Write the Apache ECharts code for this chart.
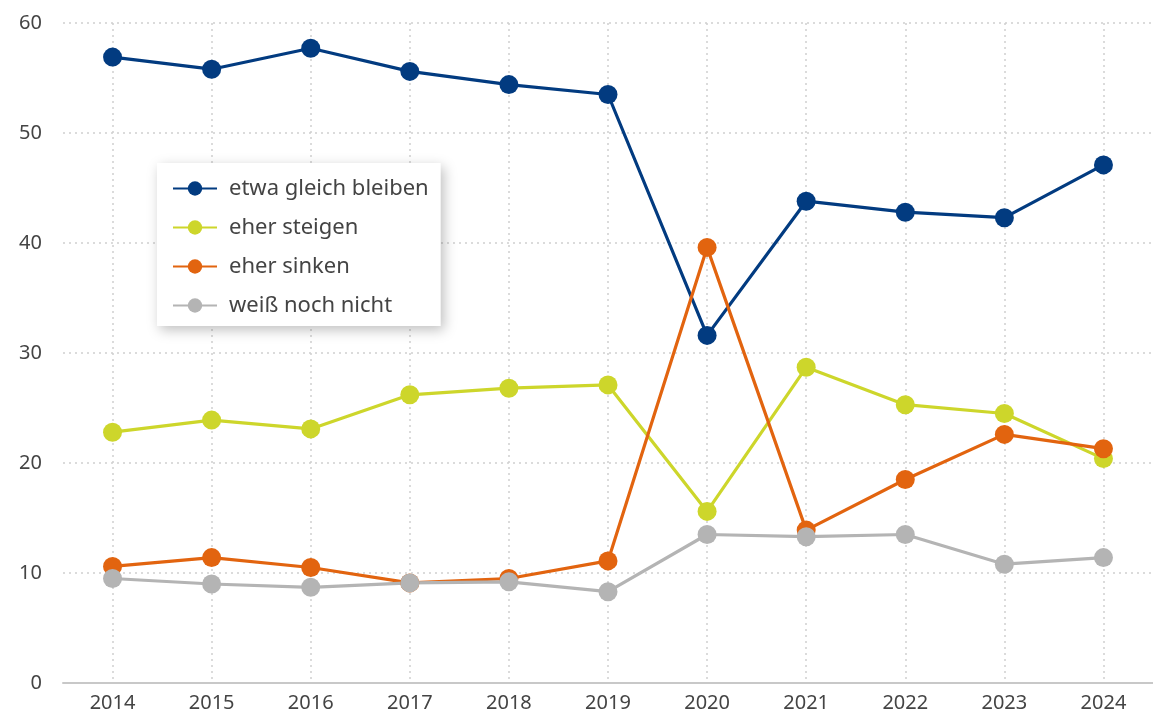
<!DOCTYPE html>
<html>
<head>
<meta charset="utf-8">
<script src="https://cdn.jsdelivr.net/npm/echarts@6/dist/echarts.min.js"></script>
<style>
  html, body { margin: 0; padding: 0; background: #fff; }
  #main { width: 1153px; height: 715px; }
</style>
</head>
<body>
<div id="main"></div>
<script>
// Jahre
var years = ['2014', '2015', '2016', '2017', '2018', '2019', '2020', '2021', '2022', '2023', '2024']
// Werte je Antwort
var gleich = [56.9, 55.8, 57.7, 55.6, 54.4, 53.5, 31.6, 43.8, 42.8, 42.3, 47.1]
var steigen = [22.8, 23.9, 23.1, 26.2, 26.8, 27.1, 15.6, 28.7, 25.3, 24.5, 20.4]
var sinken = [10.6, 11.4, 10.5, 9.1, 9.5, 11.1, 39.6, 13.9, 18.5, 22.6, 21.3]
var weissNicht = [9.5, 9.0, 8.7, 9.1, 9.2, 8.3, 13.5, 13.3, 13.5, 10.8, 11.4]
var names = ['etwa gleich bleiben', 'eher steigen', 'eher sinken', 'weiß noch nicht']

var myChart = echarts.init(document.getElementById('main'))

function makeSeries (name, data) {
  return {
    name: name,
    type: 'line',
    data: data,
    symbol: 'circle',
    symbolSize: 19,
    lineStyle: { width: 3.2 },
    emphasis: { disabled: true }
  }
}

var option = {
  animation: false,
  color: ['#023b80', '#cdd62b', '#e2640f', '#b4b4b4'],
  textStyle: { fontFamily: 'Noto Sans' },
  legend: {
    left: 157,
    top: 163,
    orient: 'vertical',
    data: names,
    itemWidth: 44,
    itemHeight: 18,
    itemGap: 16,
    padding: [14, 12, 9, 15],
    backgroundColor: '#fff',
    shadowBlur: 12,
    shadowColor: 'rgba(0, 0, 0, 0.25)',
    shadowOffsetX: 3,
    shadowOffsetY: 4,
    textStyle: {
      color: '#444',
      fontSize: 22,
      lineHeight: 23,
      padding: [0, 0, 0, 7]
    }
  },
  grid: {
    left: 63,
    right: 0,
    top: 23,
    bottom: 32
  },
  xAxis: {
    type: 'category',
    data: years,
    boundaryGap: true,
    axisTick: { show: false },
    axisLine: {
      lineStyle: { color: '#c8c8c8', width: 2 }
    },
    axisLabel: {
      color: '#444',
      fontSize: 20,
      margin: 10
    },
    splitLine: {
      show: true,
      alignWithLabel: true,
      lineStyle: { color: '#d0d0d0', type: [2, 4], width: 1.5 }
    }
  },
  yAxis: {
    type: 'value',
    min: 0,
    max: 60,
    interval: 10,
    axisLine: { show: false },
    axisTick: { show: false },
    axisLabel: {
      color: '#444',
      fontSize: 20,
      margin: 21
    },
    splitLine: {
      lineStyle: { color: '#d0d0d0', type: [2, 4], width: 1.5 }
    }
  },
  series: [
    makeSeries(names[0], gleich),
    makeSeries(names[1], steigen),
    makeSeries(names[2], sinken),
    makeSeries(names[3], weissNicht)
  ]
}
myChart.setOption(option)
</script>
</body>
</html>
